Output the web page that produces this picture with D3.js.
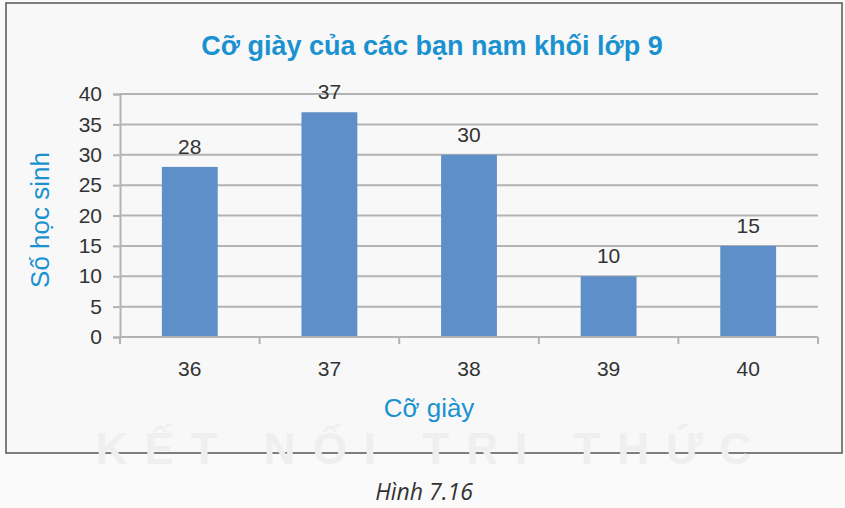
<!DOCTYPE html>
<html>
<head>
<meta charset="utf-8">
<script src="https://cdn.jsdelivr.net/npm/d3@7"></script>
<style>
  body { margin: 0; background: #fafafa; }
  text { font-family: "Liberation Sans", Arial, sans-serif; }
</style>
</head>
<body>
<div id="chart"></div>
<script>
// data
const sizes = ["36", "37", "38", "39", "40"];
const counts = [28, 37, 30, 10, 15];
const yTicks = [0, 5, 10, 15, 20, 25, 30, 35, 40];

const W = 845, H = 508;
const margin = {top: 94, right: 27, bottom: 171, left: 120};
const width = W - margin.left - margin.right,
      height = H - margin.top - margin.bottom;

const svg = d3.select("#chart")
  .append("svg")
  .attr("width", W)
  .attr("height", H);

// frame
svg.append("rect")
  .attr("x", 6).attr("y", 3)
  .attr("width", 836).attr("height", 450)
  .attr("fill", "#f8f8f8")
  .attr("stroke", "#555")
  .attr("stroke-width", 1.5);

// faint watermark
svg.append("text")
  .attr("x", 432).attr("y", 464)
  .attr("text-anchor", "middle")
  .style("font-size", "44px")
  .style("font-weight", "bold")
  .style("letter-spacing", "17px")
  .attr("fill", "#efefef")
  .text("KẾT NỐI TRI THỨC");

const g = svg.append("g")
  .attr("transform", `translate(${margin.left}, ${margin.top})`);

const x = d3.scaleBand()
  .domain(sizes)
  .range([0, width])
  .paddingInner(0.6)
  .paddingOuter(0.3);

const y = d3.scaleLinear()
  .domain([0, 40])
  .range([height, 0]);

// gridlines
g.append("g")
  .selectAll("line")
  .data(yTicks)
  .join("line")
  .attr("x1", 0).attr("x2", width)
  .attr("y1", d => y(d)).attr("y2", d => y(d))
  .attr("stroke", "#b3b3b3")
  .attr("stroke-width", 2);

// y axis
const yAxis = g.append("g")
  .call(d3.axisLeft(y).tickValues(yTicks).tickSize(7).tickPadding(11));
yAxis.select(".domain").attr("stroke", "#b3b3b3").attr("stroke-width", 2);
yAxis.selectAll(".tick line").attr("stroke", "#b3b3b3").attr("stroke-width", 2);
yAxis.selectAll(".tick text")
  .attr("fill", "#333")
  .style("font-size", "21px")
  .style("font-family", "Liberation Sans, Arial, sans-serif");

// bars
g.append("g")
  .selectAll("rect")
  .data(counts)
  .join("rect")
  .attr("x", (d, i) => x(sizes[i]))
  .attr("y", d => y(d))
  .attr("width", x.bandwidth())
  .attr("height", d => height - y(d))
  .attr("fill", "#5f8fc9");

// value labels
g.append("g")
  .selectAll("text")
  .data(counts)
  .join("text")
  .attr("x", (d, i) => x(sizes[i]) + x.bandwidth() / 2)
  .attr("y", d => y(d) - 13)
  .attr("text-anchor", "middle")
  .attr("fill", "#333")
  .style("font-size", "21px")
  .text(d => d);

// x axis with ticks between categories
const xAxis = g.append("g").attr("transform", `translate(0, ${height})`);
xAxis.append("line")
  .attr("x1", 0).attr("x2", width)
  .attr("stroke", "#b3b3b3").attr("stroke-width", 2);
xAxis.selectAll(".sep")
  .data(d3.range(sizes.length + 1))
  .join("line")
  .attr("class", "sep")
  .attr("x1", i => i * width / sizes.length)
  .attr("x2", i => i * width / sizes.length)
  .attr("y1", 0).attr("y2", 7)
  .attr("stroke", "#b3b3b3").attr("stroke-width", 2);
xAxis.selectAll(".lbl")
  .data(sizes)
  .join("text")
  .attr("class", "lbl")
  .attr("x", d => x(d) + x.bandwidth() / 2)
  .attr("y", 39)
  .attr("text-anchor", "middle")
  .attr("fill", "#333")
  .style("font-size", "21px")
  .text(d => d);

// titles
svg.append("text")
  .attr("x", 432).attr("y", 55)
  .attr("text-anchor", "middle")
  .attr("fill", "#1a92d0")
  .style("font-size", "27px")
  .style("font-weight", "bold")
  .text("Cỡ giày của các bạn nam khối lớp 9");

svg.append("text")
  .attr("x", 429).attr("y", 417)
  .attr("text-anchor", "middle")
  .attr("fill", "#1a92d0")
  .style("font-size", "26px")
  .text("Cỡ giày");

svg.append("text")
  .attr("transform", "translate(49, 220) rotate(-90)")
  .attr("text-anchor", "middle")
  .attr("fill", "#1a92d0")
  .style("font-size", "26px")
  .text("Số học sinh");

svg.append("text")
  .attr("x", 424).attr("y", 500)
  .attr("text-anchor", "middle")
  .attr("fill", "#333")
  .style("font-family", "Open Sans, sans-serif")
  .style("font-style", "italic")
  .style("font-size", "23px")
  .text("Hình 7.16");
</script>
</body>
</html>
